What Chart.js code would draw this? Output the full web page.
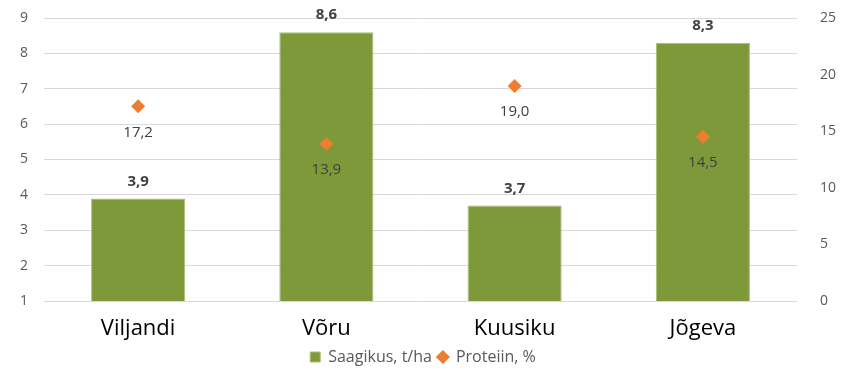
<!DOCTYPE html>
<html>
<head>
<meta charset="utf-8">
<script src="https://cdn.jsdelivr.net/npm/chart.js@4"></script>
<style>
  html, body { margin: 0; padding: 0; background: #fff; }
  #wrap { width: 846px; height: 375px; }
</style>
</head>
<body>
<div id="wrap"><canvas id="chart"></canvas></div>
<script>
// chart data
const categories = ['Viljandi', 'Võru', 'Kuusiku', 'Jõgeva'];
const yieldValues = [3.9, 8.6, 3.7, 8.3];
const proteinValues = [17.2, 13.9, 19.0, 14.5];
const yieldLabel = 'Saagikus, t/ha';
const proteinLabel = 'Proteiin, %';

const FONT = "'Open Sans', 'Noto Sans', sans-serif";

const fmt = v => v.toFixed(1).replace('.', ',');

// draws the value labels next to bars and diamonds
const valueLabels = {
    id: 'valueLabels',
    afterDatasetsDraw(chart) {
        const ctx = chart.ctx;
        ctx.save();
        ctx.textAlign = 'center';
        ctx.textBaseline = 'middle';
        chart.getDatasetMeta(0).data.forEach((bar, i) => {
            ctx.font = 'bold 15px ' + FONT;
            ctx.fillStyle = '#404040';
            ctx.fillText(fmt(yieldValues[i]), bar.x, bar.y - 17);
        });
        chart.getDatasetMeta(1).data.forEach((pt, i) => {
            ctx.font = '15px ' + FONT;
            ctx.fillStyle = '#404040';
            ctx.fillText(fmt(proteinValues[i]), pt.x, pt.y + 26);
        });
        ctx.restore();
    }
};

// fixed axis sizes so the plot area sits like the original
const fitY = w => scale => {
    scale.width = w;
    scale.paddingTop = 0;
    scale.paddingBottom = 0;
};

new Chart(document.getElementById('chart'), {
    type: 'bar',
    data: {
        labels: categories,
        datasets: [
            {
                label: yieldLabel,
                data: yieldValues,
                backgroundColor: '#7E993A',
                borderColor: '#A9C070',
                borderWidth: 1,
                yAxisID: 'y',
                pointStyle: 'rect',
                barPercentage: 0.5,
                categoryPercentage: 1.0,
                order: 2
            },
            {
                type: 'line',
                label: proteinLabel,
                data: proteinValues,
                showLine: false,
                pointStyle: 'rectRot',
                pointRadius: 7,
                backgroundColor: '#ED7D31',
                borderColor: '#ED7D31',
                borderWidth: 0,
                yAxisID: 'y1',
                order: 1
            }
        ]
    },
    options: {
        responsive: true,
        maintainAspectRatio: false,
        animation: false,
        layout: { padding: { left: 0, right: 0, top: 18, bottom: 0 } },
        plugins: {
            legend: {
                position: 'bottom',
                labels: {
                    usePointStyle: true,
                    boxWidth: 10,
                    boxHeight: 10,
                    padding: 6,
                    color: '#595959',
                    font: { family: FONT, size: 16 },
                    sort: (a, b) => a.datasetIndex - b.datasetIndex
                }
            },
            tooltip: { enabled: false }
        },
        scales: {
            x: {
                grid: { display: false },
                border: { display: false },
                afterFit: scale => { scale.height = 42; },
                ticks: {
                    color: '#000',
                    padding: 7,
                    font: { family: FONT, size: 22 }
                }
            },
            y: {
                position: 'left',
                min: 1,
                max: 9,
                afterFit: fitY(44),
                ticks: {
                    stepSize: 1,
                    color: '#595959',
                    padding: 16,
                    font: { family: FONT, size: 14 }
                },
                grid: { color: '#D9D9D9', drawTicks: false },
                border: { display: false }
            },
            y1: {
                position: 'right',
                min: 0,
                max: 25,
                afterFit: fitY(49),
                ticks: {
                    stepSize: 5,
                    color: '#595959',
                    padding: 15,
                    font: { family: FONT, size: 14 }
                },
                grid: { display: false },
                border: { display: false }
            }
        }
    },
    plugins: [valueLabels]
});
</script>
</body>
</html>
